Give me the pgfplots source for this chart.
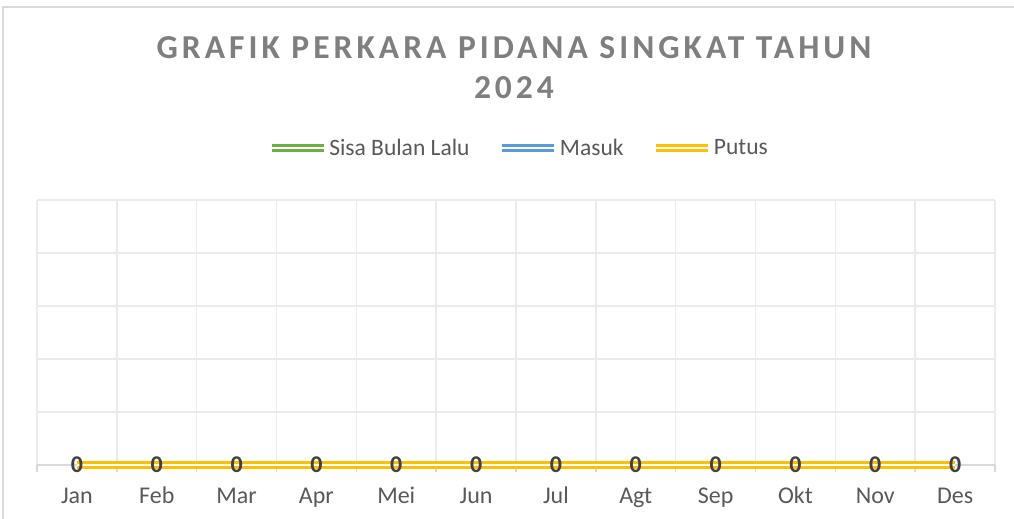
\documentclass[border=0pt]{standalone}
\usepackage{pgfplots}
\pgfplotsset{compat=1.18}
\usepackage{fontspec}
\setmainfont{Carlito}
\newfontfamily\titlefont[LetterSpace=12]{Carlito}
\definecolor{cgreen}{HTML}{70AD47}
\definecolor{cblue}{HTML}{5B9BD5}
\definecolor{cyellow}{HTML}{FFC000}
\definecolor{ctext}{HTML}{595959}
\definecolor{ctitle}{HTML}{7F7F7F}
\definecolor{cgrid}{HTML}{EBEBEB}
\definecolor{caxis}{HTML}{D9D9D9}
\definecolor{clabel}{HTML}{404040}
\begin{document}
\begin{tikzpicture}
\useasboundingbox (0pt,0pt) rectangle (1014pt,-519pt);
\fill[white] (0pt,0pt) rectangle (1014pt,-519pt);
\draw[caxis, line width=1.5pt] (3pt,-530pt) -- (3pt,-7pt) -- (1030pt,-7pt);
\node[font=\titlefont\bfseries\fontsize{33.5}{40}\selectfont, text=ctitle, anchor=base] at (514pt,-59pt) {GRAFIK PERKARA PIDANA SINGKAT TAHUN};
\node[font=\titlefont\bfseries\fontsize{33.5}{40}\selectfont, text=ctitle, anchor=base] at (514pt,-98pt) {2024};
\begin{axis}[
  at={(37pt,-465pt)}, anchor=south west,
  scale only axis, width=958pt, height=265pt,
  xmin=-0.5, xmax=11.5, ymin=0, ymax=5,
  xtick={0,...,11},
  xticklabels={Jan,Feb,Mar,Apr,Mei,Jun,Jul,Agt,Sep,Okt,Nov,Des},
  minor xtick={-0.5,0.5,...,11.5},
  xminorgrids=true, xmajorgrids=false,
  ytick={0,1,...,5}, yticklabels={}, ymajorgrids=true,
  grid style={cgrid, line width=1.5pt},
  minor grid style={cgrid, line width=1.5pt},
  axis x line*=bottom, axis y line*=left,
  x axis line style={caxis, line width=1.5pt, -},
  y axis line style={draw=none},
  ytick style={draw=none},
  major x tick style={draw=none},
  minor x tick style={caxis, line width=1.5pt},
  tick align=outside, minor tick length=7pt, major tick length=0pt,
  xticklabel style={font=\fontsize{24}{28}\selectfont, text=ctext, anchor=base, yshift=-38pt},
  legend style={at={(rel axis cs:0.503,1.196)}, anchor=center, draw=none, fill=none,
    font=\fontsize{23.5}{28}\selectfont, text=ctext, legend columns=3,
    /tikz/every odd column/.append style={column sep=0pt},
    /tikz/every even column/.append style={column sep=27pt}},
  legend cell align=left,
  legend image code/.code={\draw[#1] (0pt,0pt) -- (52pt,0pt);},
  every axis plot/.append style={line width=2.4pt, double=white, double distance=2.6pt, mark=none},
  clip=false,
]
\addplot[cgreen] coordinates {(0,0) (1,0) (2,0) (3,0) (4,0) (5,0) (6,0) (7,0) (8,0) (9,0) (10,0) (11,0)};
\addlegendentry{Sisa Bulan Lalu}
\addplot[cblue] coordinates {(0,0) (1,0) (2,0) (3,0) (4,0) (5,0) (6,0) (7,0) (8,0) (9,0) (10,0) (11,0)};
\addlegendentry{Masuk}
\addplot[cyellow, nodes near coords, point meta=explicit symbolic,
  every node near coord/.append style={anchor=center, font=\bfseries\fontsize{24}{28}\selectfont, text=clabel, double=none}]
  coordinates {(0,0) [0] (1,0) [0] (2,0) [0] (3,0) [0] (4,0) [0] (5,0) [0] (6,0) [0] (7,0) [0] (8,0) [0] (9,0) [0] (10,0) [0] (11,0) [0]};
\addlegendentry{Putus}
\end{axis}
\end{tikzpicture}
\end{document}
